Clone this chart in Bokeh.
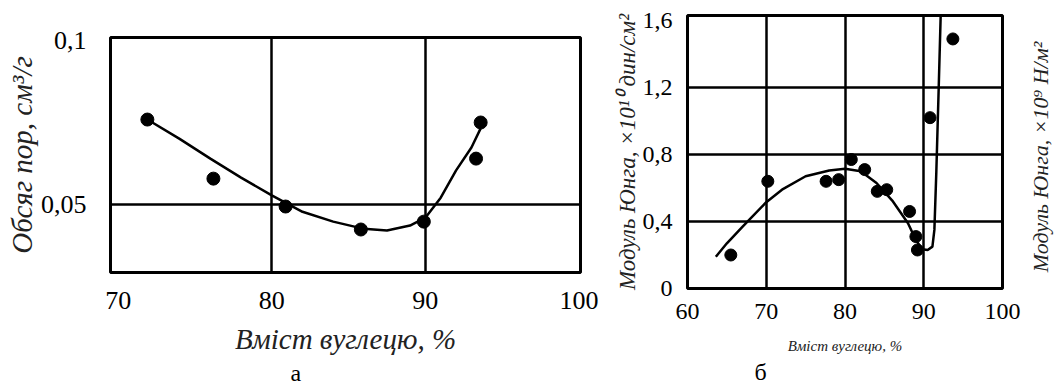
import math
from bokeh.plotting import figure
from bokeh.layouts import row
from bokeh.models import FixedTicker, CustomJSTickFormatter, Range1d, Title
from bokeh.embed import file_html
from bokeh.resources import INLINE

# ---- panel a: pore volume vs carbon content ----
carbon_a = [71.9, 76.2, 80.9, 85.8, 89.9, 93.3, 93.6]
pore_a = [0.0759, 0.0579, 0.0494, 0.0424, 0.0448, 0.0640, 0.0750]
curve_a_x = [71.9, 74.0, 76.0, 78.0, 80.0, 82.0, 84.0, 86.0, 87.5, 89.0, 90.0, 91.0, 92.0, 93.0, 93.6]
curve_a_y = [0.0759, 0.0700, 0.0640, 0.0582, 0.0528, 0.0478, 0.0448, 0.0426, 0.0421, 0.0436, 0.0460, 0.0521, 0.0604, 0.0674, 0.0732]
xticks_a = [70, 80, 90, 100]
yticks_a = [0.05, 0.1]
xgrid_a = [80, 90]
ygrid_a = [0.05]

# ---- panel b: Young's modulus vs carbon content ----
carbon_b = [65.5, 70.2, 77.6, 79.2, 80.8, 82.5, 84.1, 85.3, 88.2, 89.0, 89.2, 90.8, 93.7]
young_b = [0.20, 0.64, 0.64, 0.65, 0.77, 0.71, 0.58, 0.59, 0.46, 0.31, 0.23, 1.02, 1.49]
curve_b_x = [63.6, 65.0, 67.0, 70.0, 72.0, 75.0, 78.0, 80.0, 82.0, 84.0, 86.0, 88.0, 89.0, 89.8, 90.5, 91.1, 91.35, 91.6, 91.9, 92.15]
curve_b_y = [0.19, 0.27, 0.37, 0.515, 0.59, 0.67, 0.705, 0.715, 0.70, 0.63, 0.525, 0.39, 0.29, 0.235, 0.23, 0.25, 0.35, 0.70, 1.20, 1.63]
xticks_b = [60, 70, 80, 90, 100]
yticks_b = [0, 0.4, 0.8, 1.2, 1.6]
xgrid_b = [70, 80, 90]
ygrid_b = [0.4, 0.8, 1.2]

FONT = "Liberation Serif"
fmt = "return String(tick).replace('.', ',')"


def style(p, xt, yt, xg, yg, tick_size):
    p.background_fill_color = "white"
    p.border_fill_color = "white"
    p.outline_line_color = "black"
    p.outline_line_width = 3
    p.frame_align = False
    p.xaxis.ticker = FixedTicker(ticks=xt)
    p.yaxis.ticker = FixedTicker(ticks=yt)
    p.xgrid.ticker = FixedTicker(ticks=xg)
    p.ygrid.ticker = FixedTicker(ticks=yg)
    for g in (p.xgrid, p.ygrid):
        g.grid_line_color = "black"
        g.grid_line_width = 2.5
        g.grid_line_alpha = 1.0
    for ax in (p.xaxis, p.yaxis):
        ax.formatter = CustomJSTickFormatter(code=fmt)
        ax.axis_line_color = None
        ax.major_tick_line_color = None
        ax.minor_tick_line_color = None
        ax.major_label_text_font = FONT
        ax.major_label_text_font_size = tick_size
        ax.major_label_text_color = "black"
        ax.axis_label_text_font = FONT
        ax.axis_label_text_font_style = "italic"
        ax.axis_label_text_color = "#222222"


# panel a
p1 = figure(title=None, frame_width=470, frame_height=235,
            x_range=Range1d(69.5, 100.1), y_range=Range1d(0.0293, 0.1009),
            output_backend="svg", toolbar_location=None,
            min_border_left=110, min_border_right=20, min_border_top=37, min_border_bottom=113)
style(p1, xticks_a, yticks_a, xgrid_a, ygrid_a, "26px")
p1.xaxis.major_label_standoff = 13
p1.yaxis.major_label_standoff = 18
p1.xaxis.axis_label = "Вміст вуглецю, %"
p1.xaxis.axis_label_text_font_size = "29px"
p1.xaxis.axis_label_standoff = 11
p1.yaxis.axis_label = "Обсяг пор, см³/г"
p1.yaxis.axis_label_text_font_size = "29px"
p1.yaxis.axis_label_standoff = 0
p1.line(curve_a_x, curve_a_y, line_width=2.5, line_color="black")
p1.scatter(carbon_a, pore_a, size=13, color="black")
p1.add_layout(Title(text="а", align="left", offset=180, standoff=0, text_font=FONT,
                    text_font_size="24px", text_font_style="normal", text_color="black"), "below")

# panel b
p2 = figure(title=None, frame_width=315, frame_height=273,
            x_range=Range1d(60, 100), y_range=Range1d(0, 1.63),
            output_backend="svg", toolbar_location=None,
            min_border_left=87, min_border_right=22, min_border_top=15, min_border_bottom=97)
style(p2, xticks_b, yticks_b, xgrid_b, ygrid_b, "24px")
p2.xaxis.major_label_standoff = 9
p2.yaxis.major_label_standoff = 9
p2.xaxis.axis_label = "Вміст вуглецю, %"
p2.xaxis.axis_label_text_font_size = "15px"
p2.xaxis.axis_label_standoff = 16
p2.yaxis.axis_label = "Модуль Юнга, ×10¹⁰ дин/см²"
p2.yaxis.axis_label_text_font_size = "23px"
p2.yaxis.axis_label_standoff = 0
p2.line(curve_b_x, curve_b_y, line_width=2.5, line_color="black")
p2.scatter(carbon_b, young_b, size=12, color="black")
p2.add_layout(Title(text="б", align="left", offset=67, standoff=1, text_font=FONT,
                    text_font_size="24px", text_font_style="normal", text_color="black"), "below")

# right-hand axis title of panel b (SI units)
p3 = figure(title=None, frame_width=2, frame_height=273, x_range=Range1d(0, 1), y_range=Range1d(0, 1.63),
            output_backend="svg", toolbar_location=None, x_axis_location=None,
            min_border_left=28, min_border_right=8, min_border_top=20, min_border_bottom=90)
p3.frame_align = False
p3.outline_line_color = None
p3.xgrid.visible = False
p3.ygrid.visible = False
p3.background_fill_color = "white"
p3.border_fill_color = "white"
p3.yaxis.ticker = FixedTicker(ticks=[])
p3.yaxis.axis_line_color = None
p3.yaxis.major_tick_line_color = None
p3.yaxis.minor_tick_line_color = None
p3.yaxis.major_tick_out = 0
p3.yaxis.major_label_standoff = 0
p3.yaxis.axis_label = "Модуль Юнга, ×10⁹ Н/м²"
p3.yaxis.axis_label_text_font = FONT
p3.yaxis.axis_label_text_font_style = "italic"
p3.yaxis.axis_label_text_font_size = "22px"
p3.yaxis.axis_label_text_color = "#222222"
p3.yaxis.axis_label_standoff = 0

layout = row(p1, p2, p3, spacing=0)
open("out.html", "w").write(file_html(layout, INLINE))
